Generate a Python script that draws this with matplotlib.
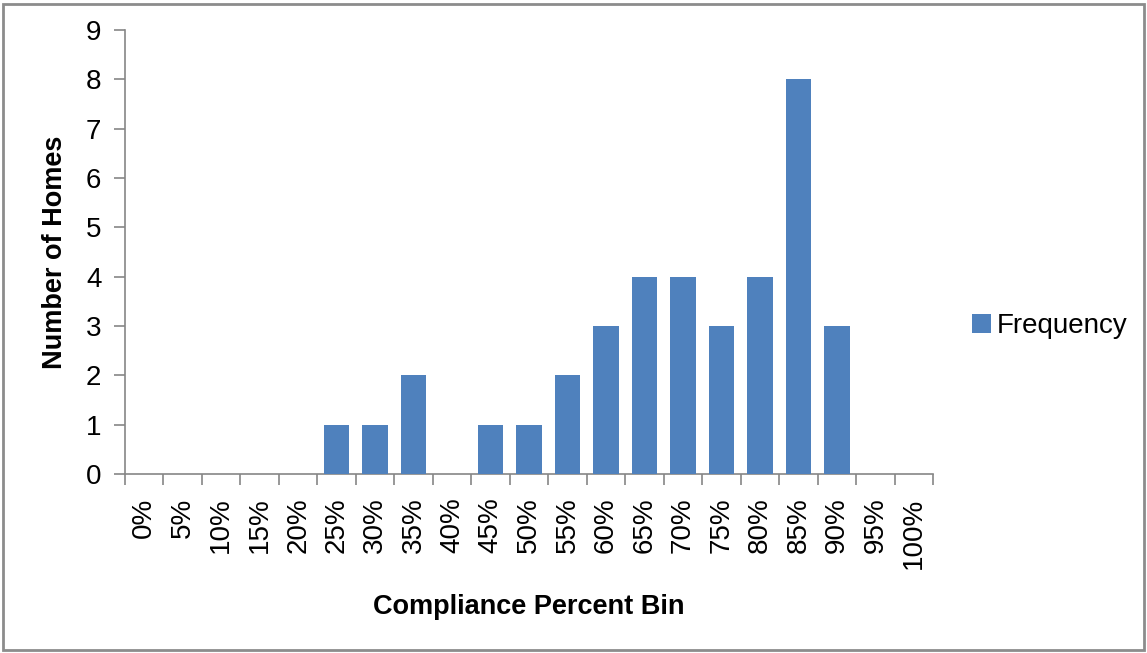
import matplotlib
matplotlib.use("Agg")
import matplotlib.pyplot as plt
from matplotlib.patches import Rectangle
import numpy as np

categories = ["0%", "5%", "10%", "15%", "20%", "25%", "30%", "35%", "40%", "45%", "50%",
              "55%", "60%", "65%", "70%", "75%", "80%", "85%", "90%", "95%", "100%"]
frequency = [0, 0, 0, 0, 0, 1, 1, 2, 0, 1, 1, 2, 3, 4, 4, 3, 4, 8, 3, 0, 0]
y_ticks = [0, 1, 2, 3, 4, 5, 6, 7, 8, 9]

plt.rcParams['font.family'] = ['Liberation Sans', 'DejaVu Sans']

fig = plt.figure(figsize=(11.47, 6.53), dpi=100)
ax = fig.add_axes([125/1147, 1 - 474/653, (933-125)/1147, (474-30)/653])

x = np.arange(len(categories))
ax.bar(x, frequency, width=0.66, color="#4F81BD", label="Frequency", zorder=3)

ax.set_xlim(-0.5, len(categories) - 0.5)
ax.set_ylim(0, 9)
ax.set_yticks(y_ticks)
ax.set_yticklabels([str(v) for v in y_ticks], fontsize=20)
ax.set_xticks(x)
ax.set_xticklabels(categories, rotation=90, fontsize=20)
ax.set_xticks(np.arange(-0.5, len(categories)), minor=True)
ax.tick_params(axis='x', which='major', length=0, pad=17)
ax.tick_params(axis='x', which='minor', length=8, color="#868686", width=1.2)
ax.tick_params(axis='y', length=8, color="#868686", width=1.2, pad=9)

for s in ['top', 'right']:
    ax.spines[s].set_visible(False)
for s in ['left', 'bottom']:
    ax.spines[s].set_color("#868686")
    ax.spines[s].set_linewidth(1.2)

ax.set_ylabel("Number of Homes", fontsize=19.5, fontweight='bold')
ax.yaxis.set_label_coords(-57/808, 0.5)
ax.set_xlabel("Compliance Percent Bin", fontsize=19.5, fontweight='bold')
ax.xaxis.set_label_coords(0.5, -(594-474)/444)

leg = fig.legend(loc='center left', bbox_to_anchor=(947/1147, 1 - 326/653), frameon=False,
                 fontsize=20, handlelength=0.7, handleheight=0.7, handletextpad=0.2)

fig.patches.append(Rectangle((3/1147, 3/653), 1141/1147, 646/653, transform=fig.transFigure,
                             fill=False, edgecolor="#8c8c8c", linewidth=2))

fig.savefig("out.png", dpi=100)
